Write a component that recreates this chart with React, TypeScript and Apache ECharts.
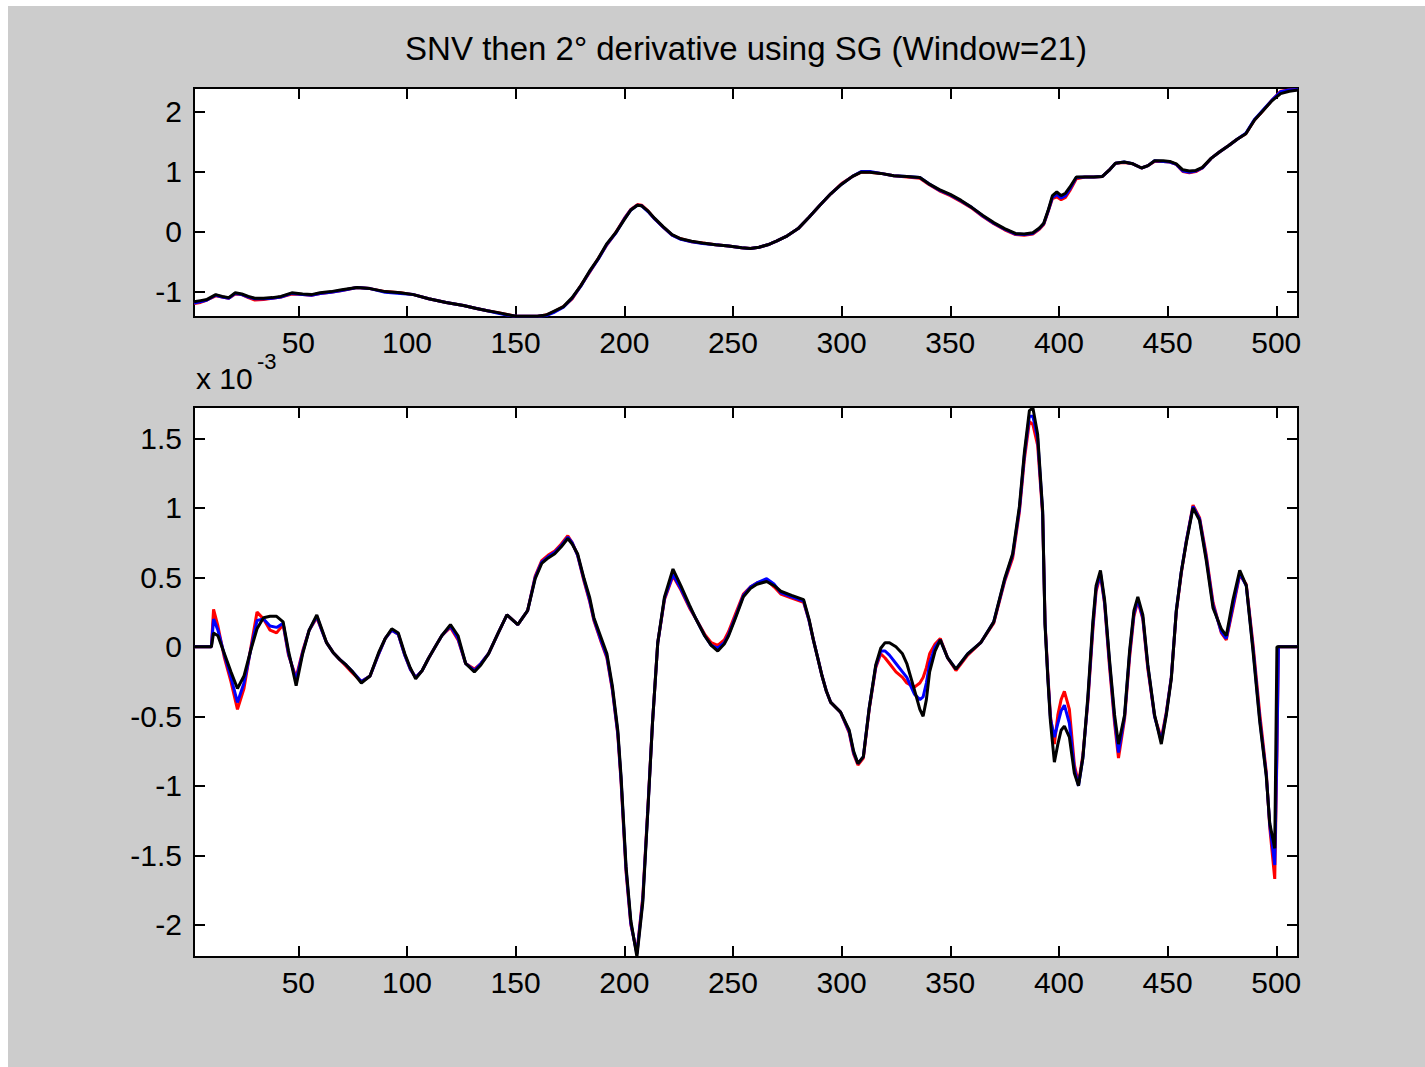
import React, { useEffect, useRef } from "react";
import * as echarts from "echarts";

const TITLE = "SNV then 2° derivative using SG (Window=21)";
const X_TICKS = [50, 100, 150, 200, 250, 300, 350, 400, 450, 500];
const UPPER_Y_TICKS = [-1, 0, 1, 2];
const LOWER_Y_TICKS = [-2, -1.5, -1, -0.5, 0, 0.5, 1, 1.5];

// Upper panel: SNV spectra
const UPPER_X = [2, 5, 8, 12, 15, 18, 21, 24, 27, 30, 34, 38, 42, 47, 52, 56, 60, 65, 70, 77, 83, 90, 97, 103, 110, 118, 126, 132, 137, 142, 146, 150, 155, 160, 164, 168, 172, 176, 180, 184, 188, 192, 196, 200, 203, 206, 208, 211, 214, 218, 222, 226, 231, 236, 242, 248, 254, 258, 262, 266, 270, 275, 280, 285, 290, 295, 300, 305, 309, 313, 318, 324, 330, 336, 340, 345, 350, 355, 360, 365, 370, 375, 380, 384, 388, 391, 393, 395, 397, 399, 401, 403, 405, 408, 412, 416, 420, 423, 426, 430, 434, 438, 441, 444, 448, 451, 454, 457, 460, 463, 466, 470, 474, 478, 482, 486, 490, 494, 498, 502, 506, 510];
const UPPER_BLACK = [-1.17, -1.15, -1.13, -1.05, -1.08, -1.10, -1.02, -1.04, -1.08, -1.11, -1.11, -1.10, -1.08, -1.02, -1.04, -1.05, -1.02, -1.00, -0.97, -0.93, -0.95, -1.00, -1.02, -1.05, -1.12, -1.18, -1.23, -1.28, -1.32, -1.35, -1.38, -1.41, -1.41, -1.41, -1.39, -1.32, -1.25, -1.10, -0.90, -0.66, -0.45, -0.20, -0.02, 0.20, 0.36, 0.44, 0.43, 0.34, 0.22, 0.08, -0.05, -0.12, -0.16, -0.19, -0.22, -0.24, -0.27, -0.28, -0.26, -0.22, -0.16, -0.07, 0.05, 0.24, 0.44, 0.63, 0.79, 0.92, 0.99, 0.99, 0.97, 0.93, 0.92, 0.90, 0.80, 0.70, 0.62, 0.52, 0.40, 0.27, 0.15, 0.05, -0.03, -0.04, -0.02, 0.06, 0.14, 0.35, 0.60, 0.66, 0.60, 0.64, 0.74, 0.91, 0.91, 0.91, 0.92, 1.02, 1.14, 1.16, 1.13, 1.06, 1.10, 1.18, 1.18, 1.17, 1.13, 1.03, 1.01, 1.02, 1.07, 1.22, 1.33, 1.43, 1.54, 1.63, 1.86, 2.02, 2.18, 2.30, 2.34, 2.36];
const UPPER_RED = [-1.20, -1.18, -1.14, -1.07, -1.09, -1.11, -1.04, -1.05, -1.10, -1.14, -1.13, -1.11, -1.09, -1.04, -1.05, -1.06, -1.03, -1.01, -0.98, -0.93, -0.95, -1.00, -1.02, -1.05, -1.12, -1.18, -1.23, -1.28, -1.32, -1.35, -1.38, -1.41, -1.41, -1.41, -1.39, -1.33, -1.25, -1.12, -0.90, -0.68, -0.45, -0.22, -0.02, 0.22, 0.37, 0.45, 0.44, 0.34, 0.21, 0.07, -0.06, -0.12, -0.17, -0.19, -0.22, -0.24, -0.27, -0.28, -0.26, -0.22, -0.16, -0.07, 0.05, 0.24, 0.44, 0.63, 0.80, 0.92, 0.99, 0.99, 0.97, 0.93, 0.91, 0.89, 0.79, 0.68, 0.60, 0.50, 0.39, 0.25, 0.13, 0.03, -0.05, -0.06, -0.04, 0.04, 0.12, 0.33, 0.55, 0.58, 0.53, 0.57, 0.68, 0.88, 0.91, 0.91, 0.92, 1.02, 1.14, 1.15, 1.13, 1.06, 1.10, 1.17, 1.17, 1.16, 1.12, 1.00, 0.98, 1.00, 1.06, 1.22, 1.33, 1.43, 1.54, 1.63, 1.86, 2.02, 2.19, 2.34, 2.36, 2.37];
const UPPER_BLUE = [-1.19, -1.17, -1.14, -1.06, -1.09, -1.11, -1.03, -1.05, -1.09, -1.12, -1.12, -1.11, -1.09, -1.03, -1.05, -1.06, -1.03, -1.01, -0.98, -0.93, -0.95, -1.01, -1.03, -1.05, -1.12, -1.18, -1.23, -1.28, -1.32, -1.36, -1.39, -1.41, -1.41, -1.41, -1.40, -1.34, -1.26, -1.11, -0.91, -0.67, -0.46, -0.21, -0.03, 0.21, 0.36, 0.44, 0.43, 0.33, 0.21, 0.07, -0.06, -0.13, -0.17, -0.20, -0.22, -0.24, -0.27, -0.28, -0.26, -0.22, -0.16, -0.07, 0.05, 0.24, 0.44, 0.63, 0.79, 0.92, 1.00, 1.00, 0.97, 0.93, 0.92, 0.90, 0.80, 0.69, 0.61, 0.51, 0.40, 0.26, 0.14, 0.04, -0.04, -0.05, -0.03, 0.05, 0.13, 0.34, 0.57, 0.62, 0.56, 0.60, 0.71, 0.90, 0.91, 0.91, 0.92, 1.02, 1.14, 1.16, 1.13, 1.06, 1.10, 1.18, 1.17, 1.16, 1.12, 1.01, 0.99, 1.01, 1.06, 1.22, 1.33, 1.43, 1.54, 1.64, 1.87, 2.03, 2.19, 2.33, 2.36, 2.37];

// Lower panel: second derivative (units of 1e-3)
const LOWER_X = [2, 10, 11, 13, 16, 19, 22, 25, 28, 31, 34, 37, 40, 43, 45.5, 49, 52, 55, 58.5, 61, 63, 66, 69, 72, 75, 79, 83, 87, 90, 93, 96, 99, 101.5, 104, 107, 110, 113, 116, 120, 123.5, 127, 131, 134, 137.5, 142, 146, 151, 155.5, 159, 162, 165, 168, 171, 174, 176, 178.5, 181.5, 184, 186, 189, 192, 194.5, 197, 198.5, 200.8, 203, 205.8, 208.5, 210.8, 213, 215.4, 218.5, 222.4, 226, 230, 233, 237, 240, 243, 246, 248, 251, 254.8, 258, 261, 265.5, 269, 272, 277, 282.5, 285, 287, 289, 291, 293, 295, 299.5, 303.5, 305.5, 307.5, 310, 312.7, 315.7, 318, 320, 322, 325, 328, 330, 333.5, 336, 337.5, 339, 340.5, 343, 345.4, 348.8, 352.6, 358, 364, 370, 375, 378.7, 381.8, 384.1, 386.4, 388, 390.2, 392.5, 393.6, 394.9, 396.1, 397.9, 399.5, 401, 402.5, 404.8, 407.1, 409, 411, 413.3, 415.6, 417.1, 419.1, 421, 423.3, 425.6, 427.4, 430.2, 432.5, 434.5, 436.3, 438.6, 440.9, 444, 447.1, 449.4, 451.7, 454, 456.3, 458.6, 461.7, 464.7, 467.8, 470.9, 474.7, 477, 480.1, 483.2, 486.2, 489.3, 492.4, 495.4, 497, 499.3, 500.3, 501, 510];
const LOWER_BLACK = [0, 0, 0.10, 0.08, -0.05, -0.18, -0.30, -0.21, -0.03, 0.13, 0.21, 0.22, 0.22, 0.18, -0.03, -0.28, -0.05, 0.12, 0.23, 0.12, 0.03, -0.04, -0.09, -0.13, -0.18, -0.26, -0.21, -0.04, 0.06, 0.13, 0.10, -0.05, -0.15, -0.23, -0.17, -0.08, 0.00, 0.08, 0.16, 0.08, -0.12, -0.18, -0.13, -0.05, 0.10, 0.23, 0.16, 0.26, 0.49, 0.60, 0.64, 0.67, 0.72, 0.78, 0.74, 0.67, 0.49, 0.36, 0.21, 0.08, -0.05, -0.28, -0.60, -0.93, -1.58, -1.97, -2.23, -1.84, -1.19, -0.54, 0.03, 0.36, 0.56, 0.44, 0.30, 0.20, 0.08, 0.01, -0.03, 0.02, 0.08, 0.20, 0.36, 0.42, 0.45, 0.47, 0.44, 0.40, 0.37, 0.34, 0.20, 0.05, -0.08, -0.21, -0.32, -0.40, -0.47, -0.60, -0.75, -0.84, -0.79, -0.44, -0.13, -0.01, 0.03, 0.03, 0.00, -0.05, -0.12, -0.31, -0.45, -0.50, -0.38, -0.18, -0.03, 0.05, -0.08, -0.16, -0.05, 0.03, 0.18, 0.49, 0.67, 1.01, 1.40, 1.70, 1.72, 1.53, 0.98, 0.16, -0.23, -0.54, -0.83, -0.70, -0.60, -0.57, -0.65, -0.91, -1.00, -0.80, -0.36, 0.18, 0.44, 0.55, 0.34, -0.10, -0.49, -0.70, -0.49, -0.03, 0.26, 0.36, 0.23, -0.13, -0.49, -0.70, -0.49, -0.23, 0.26, 0.54, 0.75, 1.00, 0.91, 0.62, 0.28, 0.13, 0.08, 0.34, 0.55, 0.44, -0.03, -0.54, -0.93, -1.27, -1.45, 0, 0, 0];
const LOWER_RED = [0, 0, 0.27, 0.15, -0.08, -0.25, -0.45, -0.30, -0.02, 0.25, 0.20, 0.12, 0.10, 0.16, -0.06, -0.22, -0.03, 0.12, 0.21, 0.11, 0.03, -0.04, -0.09, -0.14, -0.19, -0.25, -0.21, -0.05, 0.06, 0.12, 0.09, -0.06, -0.16, -0.22, -0.17, -0.08, 0.00, 0.08, 0.14, 0.05, -0.12, -0.16, -0.12, -0.05, 0.10, 0.23, 0.16, 0.26, 0.51, 0.62, 0.66, 0.69, 0.74, 0.80, 0.75, 0.66, 0.47, 0.33, 0.19, 0.05, -0.08, -0.31, -0.63, -0.97, -1.62, -2.00, -2.20, -1.80, -1.17, -0.54, 0.03, 0.34, 0.51, 0.41, 0.28, 0.20, 0.09, 0.03, 0.01, 0.05, 0.11, 0.23, 0.38, 0.43, 0.46, 0.48, 0.43, 0.38, 0.35, 0.32, 0.19, 0.05, -0.08, -0.21, -0.32, -0.40, -0.47, -0.62, -0.77, -0.85, -0.80, -0.45, -0.15, -0.05, -0.08, -0.12, -0.18, -0.22, -0.26, -0.29, -0.26, -0.22, -0.15, -0.05, 0.02, 0.06, -0.08, -0.17, -0.06, 0.03, 0.17, 0.47, 0.64, 0.97, 1.35, 1.62, 1.60, 1.45, 0.95, 0.18, -0.20, -0.50, -0.70, -0.49, -0.38, -0.32, -0.45, -0.85, -0.98, -0.78, -0.40, 0.12, 0.40, 0.52, 0.31, -0.15, -0.55, -0.80, -0.52, -0.08, 0.22, 0.33, 0.20, -0.16, -0.50, -0.66, -0.47, -0.22, 0.25, 0.53, 0.76, 1.02, 0.93, 0.66, 0.32, 0.10, 0.05, 0.28, 0.52, 0.45, 0.02, -0.48, -0.90, -1.30, -1.67, -0.78, 0, 0];
const LOWER_BLUE = [0, 0, 0.20, 0.12, -0.06, -0.22, -0.40, -0.26, -0.03, 0.19, 0.20, 0.15, 0.14, 0.17, -0.05, -0.24, -0.04, 0.12, 0.22, 0.11, 0.03, -0.04, -0.09, -0.13, -0.18, -0.25, -0.21, -0.05, 0.06, 0.12, 0.09, -0.06, -0.16, -0.22, -0.17, -0.08, 0.00, 0.08, 0.15, 0.06, -0.12, -0.17, -0.12, -0.05, 0.10, 0.23, 0.16, 0.26, 0.50, 0.61, 0.65, 0.68, 0.73, 0.79, 0.75, 0.66, 0.48, 0.34, 0.20, 0.06, -0.07, -0.30, -0.62, -0.95, -1.60, -1.99, -2.21, -1.82, -1.18, -0.54, 0.03, 0.35, 0.52, 0.42, 0.29, 0.20, 0.08, 0.01, -0.01, 0.03, 0.09, 0.21, 0.37, 0.43, 0.46, 0.49, 0.45, 0.39, 0.36, 0.33, 0.19, 0.05, -0.08, -0.21, -0.32, -0.40, -0.47, -0.61, -0.76, -0.84, -0.79, -0.44, -0.14, -0.03, -0.03, -0.06, -0.12, -0.18, -0.22, -0.34, -0.38, -0.36, -0.26, -0.12, 0.00, 0.05, -0.08, -0.16, -0.05, 0.03, 0.18, 0.48, 0.66, 0.99, 1.38, 1.66, 1.66, 1.50, 0.97, 0.17, -0.22, -0.52, -0.65, -0.55, -0.46, -0.42, -0.55, -0.88, -1.00, -0.80, -0.38, 0.15, 0.42, 0.53, 0.32, -0.12, -0.52, -0.76, -0.50, -0.05, 0.24, 0.34, 0.21, -0.14, -0.50, -0.68, -0.48, -0.22, 0.26, 0.54, 0.76, 1.01, 0.92, 0.64, 0.30, 0.11, 0.06, 0.30, 0.53, 0.44, -0.01, -0.52, -0.92, -1.28, -1.57, -0.73, 0, 0];

const FONT = "'Liberation Sans', Arial, Helvetica, sans-serif";
const TXT = "#000";

const zip = (xs: number[], ys: number[]) => xs.map((x, i) => [x, ys[i]]);

function xAxis(grid: number, position: "top" | "bottom", labels: boolean) {
  return {
    type: "value",
    gridIndex: grid,
    position,
    min: 2,
    max: 510,
    axisLine: { show: false, onZero: false },
    axisTick: { show: true, inside: true, length: 11, lineStyle: { color: "#000", width: 2 }, customValues: X_TICKS },
    axisLabel: { show: labels, customValues: X_TICKS, color: TXT, fontSize: 30, fontFamily: FONT, margin: 10 },
    splitLine: { show: false },
  };
}

function yAxis(grid: number, position: "left" | "right", labels: boolean, min: number, max: number, ticks: number[]) {
  return {
    type: "value",
    gridIndex: grid,
    position,
    min,
    max,
    axisLine: { show: false, onZero: false },
    axisTick: { show: true, inside: true, length: 11, lineStyle: { color: "#000", width: 2 }, customValues: ticks },
    axisLabel: { show: labels, customValues: ticks, color: TXT, fontSize: 30, fontFamily: FONT, margin: 12 },
    splitLine: { show: false },
  };
}

function line(name: string, color: string, data: number[][], xi: number, yi: number, width: number) {
  return {
    name,
    type: "line",
    xAxisIndex: xi,
    yAxisIndex: yi,
    data,
    showSymbol: false,
    symbol: "none",
    lineStyle: { color, width },
    itemStyle: { color },
    emphasis: { disabled: true },
    silent: true,
  };
}

export default function App() {
  const ref = useRef<HTMLDivElement>(null);
  useEffect(() => {
    if (!ref.current) return;
    const chart = echarts.init(ref.current, undefined, { renderer: "svg" });
    chart.setOption({
      animation: false,
      backgroundColor: "#cccccc",
      grid: [
        { left: 186, top: 82, width: 1104, height: 229, show: true, backgroundColor: "#fff", borderColor: "#000", borderWidth: 2 },
        { left: 186, top: 401, width: 1104, height: 550, show: true, backgroundColor: "#fff", borderColor: "#000", borderWidth: 2 },
      ],
      xAxis: [xAxis(0, "bottom", true), xAxis(0, "top", false), xAxis(1, "bottom", true), xAxis(1, "top", false)],
      yAxis: [
        yAxis(0, "left", true, -1.423, 2.393, UPPER_Y_TICKS),
        yAxis(0, "right", false, -1.423, 2.393, UPPER_Y_TICKS),
        yAxis(1, "left", true, -2.232, 1.726, LOWER_Y_TICKS),
        yAxis(1, "right", false, -2.232, 1.726, LOWER_Y_TICKS),
      ],
      series: [
        line("upper red", "#ff0000", zip(UPPER_X, UPPER_RED), 0, 0, 3),
        line("upper blue", "#0000ff", zip(UPPER_X, UPPER_BLUE), 0, 0, 3),
        line("upper black", "#000000", zip(UPPER_X, UPPER_BLACK), 0, 0, 3),
        line("lower red", "#ff0000", zip(LOWER_X, LOWER_RED), 2, 2, 3),
        line("lower blue", "#0000ff", zip(LOWER_X, LOWER_BLUE), 2, 2, 3),
        line("lower black", "#000000", zip(LOWER_X, LOWER_BLACK), 2, 2, 3),
      ],
      graphic: [
        { type: "text", x: 738, y: 42, style: { text: TITLE, fill: TXT, font: `33px ${FONT}`, textAlign: "center", textVerticalAlign: "middle" } },
        { type: "text", x: 188, y: 372, style: { text: "x 10", fill: TXT, font: `30px ${FONT}`, textAlign: "left", textVerticalAlign: "middle" } },
        { type: "text", x: 249, y: 355, style: { text: "-3", fill: TXT, font: `22px ${FONT}`, textAlign: "left", textVerticalAlign: "middle" } },
      ],
    });
    return () => chart.dispose();
  }, []);
  return (
    <div
      ref={ref}
      style={{ position: "fixed", left: 8, top: 6, width: 1417, height: 1061, background: "#cccccc" }}
    />
  );
}
